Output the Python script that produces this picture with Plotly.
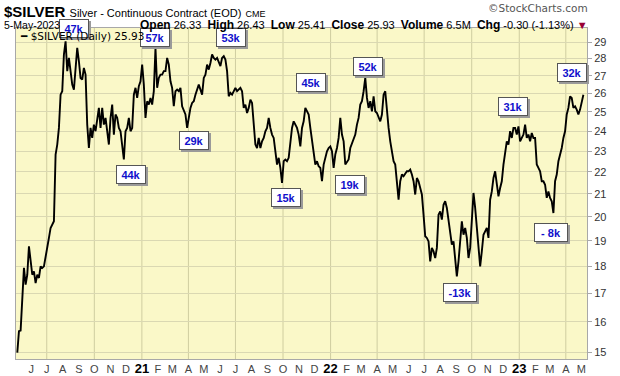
import plotly.graph_objects as go
import pandas as pd
import math

# ---- data (closing prices, log scale chart) ----
prices_2020 = [14.98, 15.68, 15.70, 16.95, 17.94, 17.31, 17.68, 18.78, 18.19, 17.68,
               17.81, 17.37, 17.68, 17.56, 18.00, 17.94, 18.00, 18.32, 18.65, 19.12,
               19.53, 19.67, 19.81, 22.83, 23.32, 24.16, 25.93, 26.12, 28.24, 29.05,
               27.26, 28.04, 27.26, 26.49, 26.21, 27.45, 28.64, 27.84, 26.87, 26.78,
               27.45, 27.06, 24.33, 23.15, 24.16, 23.65, 24.33, 23.99, 24.50, 25.21,
               24.16, 25.21, 24.33, 24.68, 23.99, 23.32, 24.68, 25.39, 23.82, 24.86,
               24.68, 24.16, 23.99, 23.32, 22.59, 23.99, 24.16, 24.68, 23.99, 24.16,
               25.93, 26.31, 25.75, 26.40, 26.68, 27.64, 26.49, 24.68, 25.57, 25.39,
               25.75, 25.39, 26.12, 28.64, 26.31, 26.87]
prices_2021 = [27.06, 27.06, 27.26, 27.26, 28.04, 27.64, 26.68, 26.31, 25.30, 26.12,
               26.21, 26.12, 26.31, 25.30, 25.12, 24.86, 24.16, 24.77, 25.21, 25.48,
               25.57, 25.93, 26.21, 26.49, 26.21, 25.93, 26.87, 27.06, 27.64, 27.35,
               27.74, 28.24, 28.04, 27.94, 28.04, 27.84, 27.55, 28.04, 28.14, 27.94,
               27.26, 25.84, 26.03, 25.93, 26.12, 26.31, 26.12, 26.21, 26.31, 26.12,
               25.21, 25.39, 24.94, 25.21, 25.66, 25.48, 24.33, 23.32, 23.15, 23.65,
               23.15, 23.48, 23.65, 23.99, 24.16, 24.68, 24.16, 23.82, 23.65, 22.83,
               22.35, 22.67, 22.19, 21.49, 22.51, 22.59, 22.51, 22.67, 23.48, 24.16,
               24.50, 24.33, 24.16, 23.82, 23.23, 24.16, 24.50, 25.21]
prices_2022 = [25.03, 24.86, 24.16, 23.48, 22.83, 22.35, 22.51, 22.27, 22.19, 21.57,
               22.35, 22.67, 22.99, 23.15, 23.23, 22.99, 22.19, 22.83, 23.15, 23.65,
               24.68, 23.82, 23.48, 22.35, 22.51, 22.59, 23.15, 23.40, 23.65, 23.82,
               24.33, 24.68, 25.39, 25.57, 26.12, 26.87, 25.75, 25.21, 25.57, 25.03,
               25.84, 25.03, 24.94, 24.68, 24.50, 24.86, 25.93, 26.12, 25.03, 24.16,
               23.48, 22.99, 22.51, 22.35, 21.57, 20.74, 21.57, 21.88, 21.80, 21.95,
               22.03, 22.03, 22.11, 21.88, 21.57, 20.97, 21.72, 21.57, 21.26, 20.97,
               20.09, 19.19, 19.12, 18.98, 18.19, 18.72, 18.58, 18.32, 18.72, 20.09,
               20.23, 19.88, 20.52, 20.67, 20.38, 19.81]
prices_2023 = [19.25, 18.85, 18.98, 18.19, 17.62, 18.19, 18.98, 19.81, 19.25, 19.53,
               19.12, 18.32, 18.72, 19.81, 21.04, 20.38, 19.53, 18.85, 18.00, 18.58,
               19.25, 19.39, 19.53, 19.12, 20.74, 21.11, 21.72, 22.03, 21.41, 20.89,
               21.26, 21.57, 22.35, 22.99, 23.48, 23.32, 23.99, 23.65, 24.16, 24.16,
               23.82, 24.24, 23.48, 23.65, 23.82, 24.33, 23.65, 23.82, 23.48, 23.90,
               23.65, 23.65, 22.35, 22.19, 22.03, 21.57, 21.57, 21.41, 20.82, 21.11,
               20.82, 20.67, 20.16, 21.57, 21.88, 22.51, 22.83, 23.15, 23.65, 23.99,
               24.86, 25.21, 25.84, 25.75, 25.21, 25.30, 25.12, 24.86, 25.12, 25.57,
               25.93]

prices = prices_2020 + prices_2021 + prices_2022 + prices_2023
dates = pd.date_range("2020-05-05", "2023-05-05", periods=len(prices))

month_ticks = pd.date_range("2020-06-01", "2023-05-01", freq="MS")
month_labels = ["J", "J", "A", "S", "O", "N", "D",
                "21", "F", "M", "A", "M", "J", "J", "A", "S", "O", "N", "D",
                "22", "F", "M", "A", "M", "J", "J", "A", "S", "O", "N", "D",
                "23", "F", "M", "A", "M"]
quarter_lines = pd.date_range("2020-07-01", "2023-04-01", freq="QS")
price_ticks = list(range(15, 30))

net_labels = ["47k", "57k", "53k", "45k", "52k", "44k", "29k", "15k", "19k",
              "-13k", "31k", "- 8k", "32k"]

# ---- layout geometry (pixels) ----
W, H = 620, 376
L, R, T, B = 16, 33, 28, 17
PW, PH = W - L - R, H - T - B


def px(x):
    return (x - L) / PW


def py(y):
    return (H - B - y) / PH


label_pos = [(74, 28), (155, 37), (231, 38), (311, 82), (368, 66), (131, 174),
             (194, 140), (286, 197), (350, 184), (460, 292), (513, 106),
             (551, 232), (572, 72)]

ticktext = []
for m in month_labels:
    if m.isdigit():
        ticktext.append("<span style='font-size:13px;fill:#000'><b>%s</b></span>" % m)
    else:
        ticktext.append(m)

fig = go.Figure()
fig.add_trace(go.Scatter(x=dates, y=prices, mode="lines",
                         line=dict(color="#000000", width=1.9),
                         showlegend=False, hoverinfo="skip"))

annotations = []
FONT = "Liberation Sans, Arial, sans-serif"
for txt, (x, y) in zip(net_labels, label_pos):
    bw = 24 if len(txt) <= 3 else 28
    # drop shadow box (no text)
    annotations.append(dict(xref="paper", yref="paper", x=px(x), y=py(y),
                            xanchor="center", yanchor="middle",
                            text=" ", showarrow=False, width=bw, height=13,
                            xshift=2, yshift=-2,
                            font=dict(family=FONT, size=11, color="#9a9a9a"),
                            bgcolor="#9a9a9a", bordercolor="#9a9a9a", borderwidth=1,
                            borderpad=2))
    annotations.append(dict(xref="paper", yref="paper", x=px(x), y=py(y),
                            xanchor="center", yanchor="middle",
                            text="<b>%s</b>" % txt, showarrow=False, width=bw, height=13,
                            font=dict(family=FONT, size=11, color="#1010CC"),
                            bgcolor="#FFFFFF", bordercolor="#555555", borderwidth=1,
                            borderpad=2))

# header
annotations += [
    dict(xref="paper", yref="paper", x=px(3), y=py(11), xanchor="left", yanchor="middle",
         showarrow=False, borderpad=0,
         text="<b>$SILVER</b> <span style='font-size:11px'>Silver - Continuous Contract (EOD)</span>"
              " <span style='font-size:9px'>CME</span>",
         font=dict(family=FONT, size=15, color="#000000")),
    dict(xref="paper", yref="paper", x=px(3), y=py(25), xanchor="left", yanchor="middle",
         showarrow=False, borderpad=0, text="5-May-2023",
         font=dict(family=FONT, size=10.5, color="#000000")),
    dict(xref="paper", yref="paper", x=px(589), y=py(25), xanchor="right", yanchor="middle",
         showarrow=False, borderpad=0,
         text="<span style='font-size:12px'><b>Open</b></span> 26.33  "
              "<span style='font-size:12px'><b>High</b></span> 26.43  "
              "<span style='font-size:12px'><b>Low</b></span> 25.41  "
              "<span style='font-size:12px'><b>Close</b></span> 25.93  "
              "<span style='font-size:12px'><b>Volume</b></span> 6.5M  "
              "<span style='font-size:12px'><b>Chg</b></span> -0.30 (-1.13%) "
              "<span style='color:#990033'>▼</span>",
         font=dict(family=FONT, size=11, color="#000000")),
    dict(xref="paper", yref="paper", x=px(589), y=py(8), xanchor="right", yanchor="middle",
         showarrow=False, borderpad=0, text="©StockCharts.com",
         font=dict(family="DejaVu Sans, sans-serif", size=10.5, color="#555555")),
    dict(xref="paper", yref="paper", x=px(19), y=py(36), xanchor="left", yanchor="middle",
         showarrow=False, borderpad=0, text="<b>━</b> $SILVER (Daily) 25.93",
         font=dict(family="DejaVu Sans, sans-serif", size=10.5, color="#000000")),
]

# quarterly vertical grid lines
for d in quarter_lines:
    fig.add_shape(type="line", xref="x", yref="paper", x0=d, x1=d, y0=0, y1=1,
                  line=dict(color="#CFCDA0", width=1), layer="below")

fig.update_layout(
    width=W, height=H,
    margin=dict(l=L, r=R, t=T, b=B, autoexpand=False),
    paper_bgcolor="#FFFFFF",
    plot_bgcolor="#FAF8C8",
    annotations=annotations,
    xaxis=dict(type="date",
               range=["2020-05-02 12:00", "2023-05-12"],
               tickmode="array", tickvals=list(month_ticks), ticktext=ticktext,
               showgrid=False, ticks="", ticklen=0,
               tickfont=dict(family=FONT, size=11, color="#444444"),
               showline=True, linecolor="#A8A8A8", linewidth=1, mirror=True,
               zeroline=False),
    yaxis=dict(type="log", side="right",
               range=[math.log10(14.78), math.log10(29.88)],
               tickmode="array", tickvals=price_ticks,
               ticktext=[str(v) for v in price_ticks],
               ticks="outside", ticklen=4, tickcolor="#A8A8A8",
               tickfont=dict(family=FONT, size=11, color="#333333"),
               showgrid=True, gridcolor="#DAD8B2", gridwidth=1,
               showline=True, linecolor="#A8A8A8", linewidth=1, mirror=True,
               zeroline=False),
)

fig.write_html("out.html", config={"displayModeBar": False},
               post_script="document.body.style.margin='0';document.body.style.overflow='hidden';")
